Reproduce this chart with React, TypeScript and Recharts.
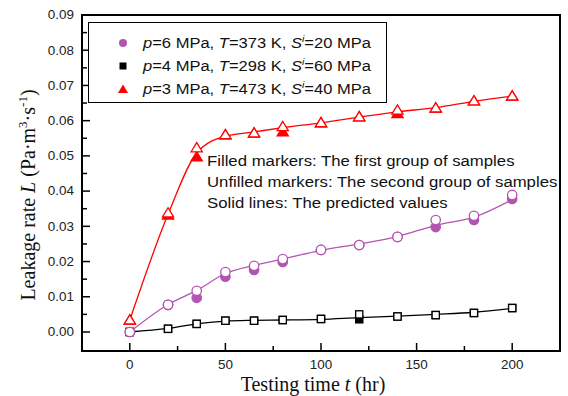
import React from 'react';
import { ComposedChart, Line, XAxis, YAxis, ReferenceArea, Legend, Customized, Label } from 'recharts';

// ---- data ----
const times = [0, 20, 35, 50, 65, 80, 100, 120, 140, 160, 180, 200];

const purpleFilled = [0, 0.0077, 0.0097, 0.0157, 0.0176, 0.0199, 0.0233, 0.0247, 0.027, 0.0298, 0.0318, 0.0378];
const purpleOpen = [0, 0.0077, 0.0117, 0.017, 0.0188, 0.0207, 0.0233, 0.0247, 0.027, 0.0318, 0.033, 0.0389];
const purplePred = [0, 0.0078, 0.0118, 0.0166, 0.0189, 0.0207, 0.0232, 0.025, 0.0271, 0.0303, 0.0326, 0.0376];

const blackFilled = [0, 0.0009, 0.0023, 0.0032, 0.0032, 0.0034, 0.0037, 0.0036, 0.0044, 0.0048, 0.0054, 0.0068];
const blackOpen = [0, 0.0009, 0.0023, 0.0032, 0.0032, 0.0034, 0.0037, 0.005, 0.0044, 0.0048, 0.0054, 0.0068];
const blackPred = [0, 0.001, 0.0023, 0.0031, 0.0033, 0.0034, 0.0036, 0.0041, 0.0045, 0.005, 0.0056, 0.0067];

const redFilled = [0.0034, 0.0332, 0.0497, 0.056, 0.0565, 0.0568, 0.0594, 0.0611, 0.062, 0.0636, 0.0656, 0.067];
const redOpen = [0.0034, 0.0338, 0.0523, 0.056, 0.0565, 0.0583, 0.0594, 0.0611, 0.063, 0.0636, 0.0656, 0.067];
const redPred = [0.0034, 0.0334, 0.0508, 0.0556, 0.0568, 0.058, 0.0594, 0.061, 0.0625, 0.0637, 0.0655, 0.067];

const xTicks = [0, 25, 50, 75, 100, 125, 150, 175, 200];
const yTicks = [0, 0.005, 0.01, 0.015, 0.02, 0.025, 0.03, 0.035, 0.04, 0.045, 0.05, 0.055, 0.06, 0.065, 0.07, 0.075, 0.08, 0.085, 0.09];
const X_DOMAIN = [-25, 225];
const Y_DOMAIN = [-0.0054, 0.09];

const legendP = ['6', '4', '3'];
const legendT = ['373', '298', '473'];
const legendS = ['20', '60', '40'];

const annotationLines = [
  'Filled markers: The first group of samples',
  'Unfilled markers: The second group of samples',
  'Solid lines: The predicted values',
];

// ---- styles ----
const PURPLE = '#B255B2';
const RED = '#FF0000';
const BLACK = '#000000';
const SANS = "'Liberation Sans', Arial, sans-serif";
const SERIF = "'Liberation Serif', 'Times New Roman', serif";

const tableData = times.map((t, i) => ({
  t,
  purpleFilled: purpleFilled[i],
  purpleOpen: purpleOpen[i],
  purplePred: purplePred[i],
  blackFilled: blackFilled[i],
  blackOpen: blackOpen[i],
  blackPred: blackPred[i],
  redFilled: redFilled[i],
  redOpen: redOpen[i],
  redPred: redPred[i],
}));

type Shape = 'circle' | 'square' | 'triangle';

const markerEl = (shape: Shape, cx: number, cy: number, color: string, filled: boolean, key?: string) => {
  const fill = filled ? color : '#ffffff';
  const sw = 1.3;
  if (shape === 'circle') {
    return <circle key={key} cx={cx} cy={cy} r={4.7} fill={fill} stroke={color} strokeWidth={sw} />;
  }
  if (shape === 'square') {
    return <rect key={key} x={cx - 3.6} y={cy - 3.6} width={7.2} height={7.2} fill={fill} stroke={color} strokeWidth={sw} />;
  }
  return (
    <polygon
      key={key}
      points={`${cx},${cy - 5.2} ${cx - 5.6},${cy + 4} ${cx + 5.6},${cy + 4}`}
      fill={fill}
      stroke={color}
      strokeWidth={sw}
    />
  );
};

const makeDot = (name: string, shape: Shape, color: string, filled: boolean) => (p: any) => {
  if (p == null || p.cx == null || p.cy == null) return <g key={`${name}-${p?.index}`} />;
  return markerEl(shape, p.cx, p.cy, color, filled, `${name}-${p.index}`);
};

const XTick = (props: any) => {
  const { x, y, payload } = props;
  const v = payload.value;
  const major = v % 50 === 0;
  return (
    <g>
      <line x1={x} x2={x} y1={y} y2={y - (major ? 8 : 5)} stroke="#000" strokeWidth={1.5} />
      {major && (
        <text
          transform={`translate(${x},${y + 17.5}) scale(1.12,1)`}
          textAnchor="middle"
          fontSize={12}
          fill="#222"
          fontFamily={SANS}
        >
          {v}
        </text>
      )}
    </g>
  );
};

const YTick = (props: any) => {
  const { x, y, payload } = props;
  const v = payload.value;
  const major = Math.round(v * 1000) % 10 === 0;
  return (
    <g>
      <line x1={x} x2={x + (major ? 8 : 5)} y1={y} y2={y} stroke="#000" strokeWidth={1.5} />
      {major && (
        <text
          transform={`translate(${x - 8},${y + 4.3}) scale(1.12,1)`}
          textAnchor="end"
          fontSize={12}
          fill="#222"
          fontFamily={SANS}
        >
          {v.toFixed(2)}
        </text>
      )}
    </g>
  );
};

const YLabel = () => (
  <text transform="translate(35,195) rotate(-90)" textAnchor="middle" fontFamily={SERIF} fontSize={20} fill="#111">
    <tspan>Leakage rate </tspan>
    <tspan fontStyle="italic">L</tspan>
    <tspan> (Pa·m</tspan>
    <tspan fontSize={13} dy={-8}>3</tspan>
    <tspan dy={8}>·s</tspan>
    <tspan fontSize={13} dy={-8}>-1</tspan>
    <tspan dy={8}>)</tspan>
  </text>
);

const XLabel = () => (
  <text x={313} y={391} textAnchor="middle" fontFamily={SERIF} fontSize={20} fill="#111">
    <tspan>Testing time </tspan>
    <tspan fontStyle="italic">t</tspan>
    <tspan> (hr)</tspan>
  </text>
);

const Annotation = () => (
  <g fontFamily={SANS} fontSize={15.5} fill="#111">
    {annotationLines.map((line, i) => (
      <text key={i} transform={`translate(207,${166 + i * 21}) scale(1.08,1)`}>
        {line}
      </text>
    ))}
  </g>
);

const legendShapes: Shape[] = ['circle', 'square', 'triangle'];
const legendColors = [PURPLE, BLACK, RED];

const LegendBox = () => (
  <div
    style={{
      position: 'relative',
      width: 299,
      height: 81,
      boxSizing: 'border-box',
      border: '1.5px solid #000',
      background: '#fff',
      fontFamily: SANS,
      fontSize: 14,
      color: '#111',
    }}
  >
    {legendP.map((p, i) => {
      const cy = 20 + i * 23;
      return (
        <React.Fragment key={i}>
          <svg style={{ position: 'absolute', left: 26, top: cy - 8 }} width={16} height={16}>
            {legendShapes[i] === 'circle' && <circle cx={8} cy={8} r={4} fill={legendColors[i]} />}
            {legendShapes[i] === 'square' && <rect x={4.5} y={4.5} width={7} height={7} fill={legendColors[i]} />}
            {legendShapes[i] === 'triangle' && <polygon points="8,3.5 3,12 13,12" fill={legendColors[i]} />}
          </svg>
          <div
            style={{
              position: 'absolute',
              left: 54,
              top: cy - 10,
              height: 20,
              lineHeight: '20px',
              whiteSpace: 'nowrap',
              transform: 'scaleX(1.18)',
              transformOrigin: 'left center',
            }}
          >
            <i>p</i>={p} MPa, <i>T</i>={legendT[i]} K, <i>S</i>
            <span style={{ fontSize: 9, fontStyle: 'italic', position: 'relative', top: -6 }}>i</span>={legendS[i]} MPa
          </div>
        </React.Fragment>
      );
    })}
  </div>
);

export default function App() {
  return (
    <div style={{ position: 'absolute', left: 0, top: 0 }}>
      <ComposedChart
        width={568}
        height={396}
        data={tableData}
        margin={{ top: 15, right: 8, bottom: 0, left: 0 }}
        style={{ background: '#fff' }}
      >
        <XAxis
          type="number"
          dataKey="t"
          domain={X_DOMAIN}
          allowDataOverflow
          ticks={xTicks}
          interval={0}
          tickLine={false}
          tickSize={0}
          tickMargin={0}
          axisLine={{ stroke: '#000', strokeWidth: 2 }}
          height={45}
          tick={<XTick />}
        >
          <Label content={<XLabel />} />
        </XAxis>
        <YAxis
          type="number"
          domain={Y_DOMAIN}
          allowDataOverflow
          ticks={yTicks}
          interval={0}
          tickLine={false}
          tickSize={0}
          tickMargin={0}
          axisLine={{ stroke: '#000', strokeWidth: 2 }}
          width={82}
          tick={<YTick />}
        >
          <Label content={<YLabel />} />
        </YAxis>
        <ReferenceArea
          x1={X_DOMAIN[0]}
          x2={X_DOMAIN[1]}
          y1={Y_DOMAIN[0]}
          y2={Y_DOMAIN[1]}
          fill="none"
          stroke="#000"
          strokeWidth={2}
        />
        <Legend
          layout="vertical"
          align="center"
          verticalAlign="middle"
          content={<LegendBox />}
          wrapperStyle={{ position: 'absolute', left: 88, top: 22, width: 299, height: 81 }}
        />

        <Line dataKey="blackPred" type="monotone" stroke={BLACK} strokeWidth={1.3} dot={false} activeDot={false} isAnimationActive={false} legendType="none" />
        <Line dataKey="redPred" type="monotone" stroke={RED} strokeWidth={1.3} dot={false} activeDot={false} isAnimationActive={false} legendType="none" />
        <Line dataKey="purplePred" type="monotone" stroke={PURPLE} strokeWidth={1.3} dot={false} activeDot={false} isAnimationActive={false} legendType="none" />

        <Line dataKey="blackFilled" stroke="none" dot={makeDot('bf', 'square', BLACK, true)} activeDot={false} isAnimationActive={false} legendType="none" />
        <Line dataKey="blackOpen" stroke="none" dot={makeDot('bo', 'square', BLACK, false)} activeDot={false} isAnimationActive={false} legendType="none" />
        <Line dataKey="redFilled" stroke="none" dot={makeDot('rf', 'triangle', RED, true)} activeDot={false} isAnimationActive={false} legendType="none" />
        <Line dataKey="redOpen" stroke="none" dot={makeDot('ro', 'triangle', RED, false)} activeDot={false} isAnimationActive={false} legendType="none" />
        <Line dataKey="purpleFilled" stroke="none" dot={makeDot('pf', 'circle', PURPLE, true)} activeDot={false} isAnimationActive={false} legendType="none" />
        <Line dataKey="purpleOpen" stroke="none" dot={makeDot('po', 'circle', PURPLE, false)} activeDot={false} isAnimationActive={false} legendType="none" />

        <Customized component={<Annotation />} />
      </ComposedChart>
    </div>
  );
}
